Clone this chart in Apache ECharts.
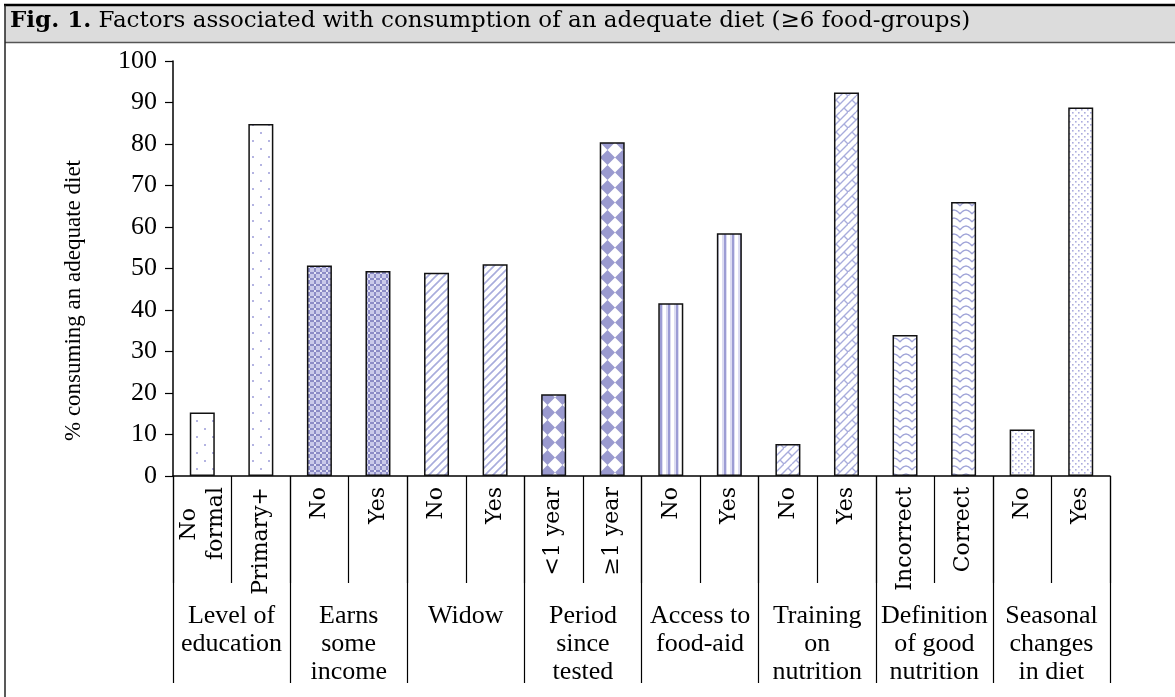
<!DOCTYPE html>
<html>
<head>
<meta charset="utf-8">
<script src="https://cdn.jsdelivr.net/npm/echarts@6/dist/echarts.min.js"></script>
<style>
  html, body { margin: 0; padding: 0; background: #fff; }
  #main { width: 1175px; height: 697px; }
</style>
</head>
<body>
<div id="main"></div>
<script>
// 分类、分组与数值
var categories = ['No   \nformal', 'Primary+', 'No', 'Yes', 'No', 'Yes', '<1 year', '≥1 year',
                  'No', 'Yes', 'No', 'Yes', 'Incorrect', 'Correct', 'No', 'Yes'];
var groups = ['Level of\neducation', 'Earns\nsome\nincome', 'Widow', 'Period\nsince\ntested',
              'Access to\nfood-aid', 'Training\non\nnutrition', 'Definition\nof good\nnutrition',
              'Seasonal\nchanges\nin diet'];
var values = [15.3, 84.8, 50.7, 49.4, 49.0, 51.0, 19.7, 80.4,
              41.6, 58.5, 7.7, 92.4, 34.0, 66.0, 11.2, 88.8];
var yTicks = [0, 10, 20, 30, 40, 50, 60, 70, 80, 90, 100];

var SERIF = '"Liberation Serif", serif';
var WIDE = '"DejaVu Serif", serif';

// 填充图案
function makePattern(w, h, draw) {
    var c = document.createElement('canvas');
    c.width = w; c.height = h;
    var ctx = c.getContext('2d');
    ctx.fillStyle = '#fff';
    ctx.fillRect(0, 0, w, h);
    draw(ctx, w, h);
    return { image: c, repeat: 'repeat' };
}

var patterns = [
    // 稀疏点
    makePattern(16, 16, function (ctx) {
        ctx.fillStyle = '#b4b4e2';
        ctx.fillRect(4, 4, 2, 2);
        ctx.fillRect(12, 12, 2, 2);
    }),
    // 密网格
    makePattern(6, 6, function (ctx) {
        ctx.fillStyle = '#cacaea';
        ctx.fillRect(0, 0, 6, 6);
        ctx.fillStyle = '#8c8cc6';
        ctx.fillRect(0, 2, 6, 2);
        ctx.fillRect(2, 0, 2, 6);
        ctx.fillStyle = '#e6e6f6';
        ctx.fillRect(2, 2, 2, 2);
    }),
    // 斜线
    makePattern(8, 8, function (ctx) {
        ctx.strokeStyle = '#a8acdc';
        ctx.lineWidth = 1.6;
        ctx.beginPath();
        ctx.moveTo(-2, 10); ctx.lineTo(10, -2);
        ctx.moveTo(-2, 2); ctx.lineTo(2, -2);
        ctx.moveTo(6, 10); ctx.lineTo(10, 6);
        ctx.stroke();
    }),
    // 菱形格
    makePattern(15, 15, function (ctx) {
        ctx.fillStyle = '#9a9acf';
        ctx.beginPath();
        ctx.moveTo(7.5, 0); ctx.lineTo(15, 7.5); ctx.lineTo(7.5, 15); ctx.lineTo(0, 7.5);
        ctx.closePath();
        ctx.fill();
    }),
    // 竖线
    makePattern(8, 8, function (ctx) {
        ctx.fillStyle = '#dcdcf2';
        ctx.fillRect(2, 0, 5, 8);
        ctx.fillStyle = '#9c9cd4';
        ctx.fillRect(4, 0, 2, 8);
    }),
    // 砖纹
    makePattern(16, 16, function (ctx) {
        ctx.strokeStyle = '#a8acdc';
        ctx.lineWidth = 1.4;
        ctx.beginPath();
        ctx.moveTo(0, 16); ctx.lineTo(16, 0);
        ctx.moveTo(-8, 16); ctx.lineTo(8, 0);
        ctx.moveTo(8, 16); ctx.lineTo(24, 0);
        ctx.moveTo(4, 4); ctx.lineTo(8, 8);
        ctx.moveTo(12, 12); ctx.lineTo(16, 16);
        ctx.stroke();
    }),
    // 波纹
    makePattern(12, 8, function (ctx) {
        ctx.strokeStyle = '#a0a4d8';
        ctx.lineWidth = 1.4;
        ctx.beginPath();
        ctx.moveTo(0, 6); ctx.quadraticCurveTo(6, -2, 12, 6);
        ctx.stroke();
    }),
    // 密点
    makePattern(6, 6, function (ctx) {
        ctx.fillStyle = '#acacde';
        ctx.fillRect(1, 1, 1.6, 1.6);
        ctx.fillRect(4, 4, 1.6, 1.6);
    })
];

var chart = echarts.init(document.getElementById('main'));

var option = {
    animation: false,
    backgroundColor: '#fff',
    textStyle: { fontFamily: SERIF, color: '#000' },
    title: {
        text: '{b|Fig. 1.} Factors associated with consumption of an adequate diet (≥6 food-groups)',
        left: 10, top: 10, padding: 0,
        textStyle: {
            fontFamily: WIDE, fontSize: 23, fontWeight: 'normal', color: '#000',
            rich: { b: { fontFamily: WIDE, fontSize: 23, fontWeight: 'bold', color: '#000' } }
        }
    },
    graphic: [
        { type: 'rect', shape: { x: 5, y: 5, width: 1175, height: 37 },
          style: { fill: '#dcdcdc', stroke: null }, z: -1 },
        { type: 'line', shape: { x1: 4, y1: 5, x2: 1175, y2: 5 },
          style: { stroke: '#000', lineWidth: 2.5 } },
        { type: 'line', shape: { x1: 5, y1: 42.5, x2: 1175, y2: 42.5 },
          style: { stroke: '#555', lineWidth: 1.5 } },
        { type: 'line', shape: { x1: 5, y1: 5, x2: 5, y2: 697 },
          style: { stroke: '#222', lineWidth: 1.5 } }
    ],
    grid: { left: 173, right: 65, top: 61, bottom: 221 },
    xAxis: [{
        type: 'category',
        data: categories,
        axisLine: { lineStyle: { color: '#000', width: 1.5 } },
        axisTick: { show: true, length: 107, interval: 0, lineStyle: { color: '#000', width: 1.2 } },
        axisLabel: {
            interval: 0, rotate: 90, margin: 11,
            fontFamily: WIDE, fontSize: 22, color: '#000', lineHeight: 27
        }
    }, {
        type: 'category',
        data: groups,
        position: 'bottom',
        axisLine: { show: false },
        axisTick: { show: true, length: 207, interval: 0, lineStyle: { color: '#000', width: 1.2 } },
        axisLabel: {
            interval: 0, margin: 126,
            fontFamily: SERIF, fontSize: 26, color: '#000', lineHeight: 28
        }
    }],
    yAxis: {
        type: 'value',
        min: 0, max: 100, interval: 10,
        name: '% consuming an adequate diet',
        nameLocation: 'middle',
        nameRotate: 90,
        nameGap: 88,
        nameTextStyle: { fontFamily: SERIF, fontSize: 23, color: '#000', padding: [0, 64, 0, 0] },
        axisLine: { show: true, lineStyle: { color: '#000', width: 1.5 } },
        axisTick: { show: true, length: 8, lineStyle: { color: '#000', width: 1.2 } },
        axisLabel: { margin: 16, fontFamily: SERIF, fontSize: 26, color: '#000',
                     formatter: function (v) { return yTicks.indexOf(v) >= 0 ? String(v) : ''; } },
        splitLine: { show: false }
    },
    series: [{
        type: 'bar',
        xAxisIndex: 0,
        barWidth: 25,
        data: values.map(function (v, i) {
            return {
                value: v,
                itemStyle: { color: patterns[Math.floor(i / 2)], borderColor: '#111', borderWidth: 1.5 }
            };
        })
    }]
};

chart.setOption(option);
window.onresize = chart.resize;
</script>
</body>
</html>
